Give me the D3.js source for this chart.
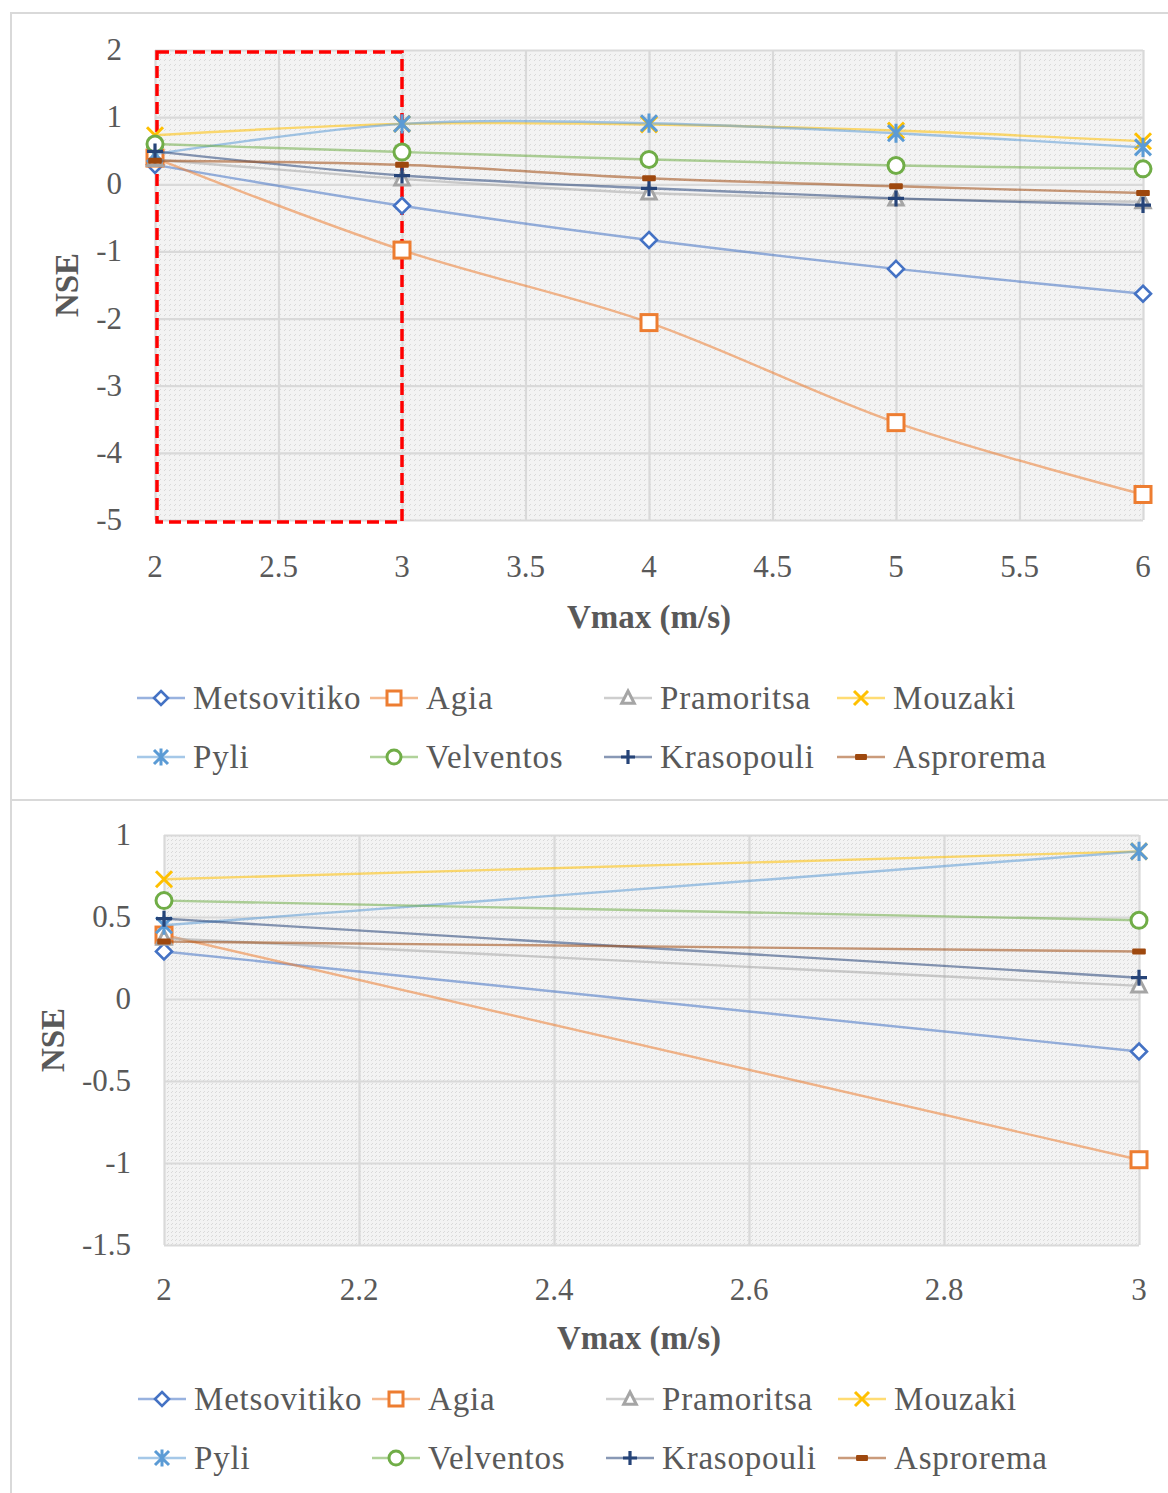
<!DOCTYPE html>
<html>
<head>
<meta charset="utf-8">
<script src="https://cdn.jsdelivr.net/npm/d3@7"></script>
<style>
  html, body { margin: 0; padding: 0; background: #ffffff; }
  svg { display: block; }
  text { font-family: "Liberation Serif", "DejaVu Serif", serif; fill: #595959; }
</style>
</head>
<body>
<svg id="chart" width="1168" height="1493"></svg>
<script>
// Maximum flow velocity values (m/s)
const vmax = [2, 3, 4, 5, 6];

// Station names, in legend order
const stations = ["Metsovitiko", "Agia", "Pramoritsa", "Mouzaki", "Pyli", "Velventos", "Krasopouli", "Asprorema"];

// NSE per station for each Vmax
const metsovitiko = [0.29, -0.32, -0.83, -1.26, -1.63];
const agia        = [0.39, -0.98, -2.06, -3.55, -4.62];
const pramoritsa  = [0.37, 0.08, -0.13, -0.22, -0.26];
const mouzaki     = [0.73, 0.90, 0.89, 0.80, 0.64];
const pyli        = [0.45, 0.90, 0.91, 0.76, 0.55];
const velventos   = [0.60, 0.48, 0.37, 0.28, 0.23];
const krasopouli  = [0.49, 0.13, -0.06, -0.21, -0.31];
const asprorema   = [0.35, 0.29, 0.09, -0.03, -0.13];

// Axis ticks
const xTicksFull = [2, 2.5, 3, 3.5, 4, 4.5, 5, 5.5, 6];
const yTicksFull = [2, 1, 0, -1, -2, -3, -4, -5];
const xTicksZoom = [2, 2.2, 2.4, 2.6, 2.8, 3];
const yTicksZoom = [1, 0.5, 0, -0.5, -1, -1.5];

const nse = [metsovitiko, agia, pramoritsa, mouzaki, pyli, velventos, krasopouli, asprorema];

// Series appearance
const styles = [
  { color: "#4472C4", marker: "diamond" },
  { color: "#ED7D31", marker: "square" },
  { color: "#A5A5A5", marker: "triangle" },
  { color: "#FFC000", marker: "cross" },
  { color: "#5B9BD5", marker: "star" },
  { color: "#70AD47", marker: "circle" },
  { color: "#264478", marker: "plus" },
  { color: "#9E480E", marker: "dash" }
];

const svg = d3.select("#chart");
const defs = svg.append("defs");

// Diagonal hatch fill for the plot areas
function hatch(id, step) {
  const p = defs.append("pattern")
    .attr("id", id)
    .attr("patternUnits", "userSpaceOnUse")
    .attr("width", step).attr("height", step);
  p.append("rect").attr("width", step).attr("height", step).attr("fill", "#f3f3f3");
  p.append("path")
    .attr("d", `M${-step},0 L${step},${2 * step} M0,${-step} L${2 * step},${step}`)
    .attr("stroke", "#a3a3a3").attr("stroke-width", 1.2);
}
hatch("hatchTop", 5);
hatch("hatchBottom", 4);

// Panel frames
svg.append("rect").attr("x", 11).attr("y", 13).attr("width", 1170).attr("height", 787)
  .attr("fill", "none").attr("stroke", "#d9d9d9").attr("stroke-width", 2);
svg.append("rect").attr("x", 11).attr("y", 800).attr("width", 1170).attr("height", 720)
  .attr("fill", "none").attr("stroke", "#d9d9d9").attr("stroke-width", 2);

function drawMarker(g, type, color, cx, cy, s) {
  const m = g.append("g").attr("transform", `translate(${cx},${cy})`);
  switch (type) {
    case "diamond":
      m.append("path").attr("d", `M0,${-s} L${s},0 L0,${s} L${-s},0 Z`)
        .attr("fill", "#ffffff").attr("stroke", color).attr("stroke-width", 2.6);
      break;
    case "square":
      m.append("rect").attr("x", -s).attr("y", -s).attr("width", 2 * s).attr("height", 2 * s)
        .attr("fill", "#ffffff").attr("stroke", color).attr("stroke-width", 3);
      break;
    case "triangle":
      m.append("path").attr("d", `M0,${-s} L${s * 0.9},${s * 0.75} L${-s * 0.9},${s * 0.75} Z`)
        .attr("fill", "#ffffff").attr("stroke", color).attr("stroke-width", 3);
      break;
    case "circle":
      m.append("circle").attr("r", s)
        .attr("fill", "#ffffff").attr("stroke", color).attr("stroke-width", 3);
      break;
    case "cross":
      m.append("path").attr("d", `M${-s},${-s} L${s},${s} M${-s},${s} L${s},${-s}`)
        .attr("stroke", color).attr("stroke-width", 3).attr("fill", "none");
      break;
    case "star":
      m.append("path").attr("d", `M${-s},${-s} L${s},${s} M${-s},${s} L${s},${-s} M0,${-s * 1.2} L0,${s * 1.2}`)
        .attr("stroke", color).attr("stroke-width", 3).attr("fill", "none");
      break;
    case "plus":
      m.append("path").attr("d", `M${-s},0 L${s},0 M0,${-s} L0,${s}`)
        .attr("stroke", color).attr("stroke-width", 3.2).attr("fill", "none");
      break;
    case "dash":
      m.append("rect").attr("x", -s * 0.85).attr("y", -3).attr("width", s * 1.7).attr("height", 6)
        .attr("rx", 1).attr("fill", color);
      break;
  }
}

function drawPanel(cfg) {
  const x = d3.scaleLinear().domain(cfg.xDomain).range(cfg.xRange);
  const y = d3.scaleLinear().domain(cfg.yDomain).range(cfg.yRange);
  const g = svg.append("g");

  // plot background
  g.append("rect")
    .attr("x", cfg.xRange[0]).attr("y", cfg.yRange[1])
    .attr("width", cfg.xRange[1] - cfg.xRange[0])
    .attr("height", cfg.yRange[0] - cfg.yRange[1])
    .attr("fill", `url(#${cfg.hatch})`);

  // gridlines
  const xAxis = d3.axisBottom(x).tickValues(cfg.xTicks).tickSize(-(cfg.yRange[0] - cfg.yRange[1])).tickFormat("");
  const yAxis = d3.axisLeft(y).tickValues(cfg.yTicks).tickSize(-(cfg.xRange[1] - cfg.xRange[0])).tickFormat("");
  const gx = g.append("g").attr("transform", `translate(0,${cfg.yRange[0]})`).call(xAxis);
  const gy = g.append("g").attr("transform", `translate(${cfg.xRange[0]},0)`).call(yAxis);
  [gx, gy].forEach(a => {
    a.select(".domain").remove();
    a.selectAll("line").attr("stroke", "#d9d9d9").attr("stroke-width", 2.2);
  });

  // tick labels (plain hyphen for negatives)
  g.selectAll(".xl").data(cfg.xTicks).enter().append("text")
    .attr("x", d => x(d)).attr("y", cfg.xLabelY)
    .attr("text-anchor", "middle").attr("font-size", 31)
    .text(d => String(d));
  g.selectAll(".yl").data(cfg.yTicks).enter().append("text")
    .attr("x", cfg.yLabelX).attr("y", d => y(d) + 10)
    .attr("text-anchor", "end").attr("font-size", 31)
    .text(d => String(d));

  // axis titles
  g.append("text").attr("x", cfg.xTitle[0]).attr("y", cfg.xTitle[1])
    .attr("text-anchor", "middle").attr("font-size", 33).attr("font-weight", "bold")
    .text("Vmax (m/s)");
  g.append("text")
    .attr("transform", `translate(${cfg.yTitle[0]},${cfg.yTitle[1]}) rotate(-90)`)
    .attr("text-anchor", "middle").attr("font-size", 33).attr("font-weight", "bold")
    .text("NSE");

  if (cfg.extra) cfg.extra(g, x, y);

  // series
  const n = cfg.nPoints;
  const line = d3.line().x(d => x(d[0])).y(d => y(d[1])).curve(cfg.curve);
  nse.forEach((vals, i) => {
    const pts = vmax.slice(0, n).map((v, k) => [v, vals[k]]);
    g.append("path").datum(pts).attr("d", line)
      .attr("fill", "none").attr("stroke", styles[i].color)
      .attr("stroke-opacity", 0.55).attr("stroke-width", 2.4);
    pts.forEach(p => drawMarker(g, styles[i].marker, styles[i].color, x(p[0]), y(p[1]), 8));
  });

  // legend
  stations.forEach((name, i) => {
    const col = i % 4, row = Math.floor(i / 4);
    const lx = cfg.legendCols[col];
    const ly = cfg.legendRows[row];
    g.append("line").attr("x1", lx).attr("x2", lx + 48).attr("y1", ly).attr("y2", ly)
      .attr("stroke", styles[i].color).attr("stroke-opacity", 0.55).attr("stroke-width", 2.4);
    drawMarker(g, styles[i].marker, styles[i].color, lx + 24, ly, 7);
    g.append("text").attr("x", lx + 56).attr("y", ly + 11)
      .attr("font-size", 33).attr("letter-spacing", 0.8).text(name);
  });
}

// Full Vmax range, smoothed lines
drawPanel({
  xDomain: [2, 6], xRange: [155, 1143],
  yDomain: [-5, 2], yRange: [520, 50],
  xTicks: xTicksFull, yTicks: yTicksFull,
  hatch: "hatchTop",
  nPoints: 5,
  curve: d3.curveCatmullRom.alpha(0),
  xLabelY: 577, yLabelX: 122,
  xTitle: [649, 628], yTitle: [78, 285],
  legendCols: [137, 370, 604, 837], legendRows: [698, 757],
  extra: (g, x, y) => {
    // highlighted Vmax 2–3 window
    g.append("rect")
      .attr("x", x(2) + 2).attr("y", y(2) + 2)
      .attr("width", x(3) - x(2) - 2).attr("height", y(-5) - y(2))
      .attr("fill", "none").attr("stroke", "#ff0000")
      .attr("stroke-width", 3.5).attr("stroke-dasharray", "12,6");
  }
});

// Detail of Vmax 2–3
drawPanel({
  xDomain: [2, 3], xRange: [164, 1139],
  yDomain: [-1.5, 1], yRange: [1245, 835],
  xTicks: xTicksZoom, yTicks: yTicksZoom,
  hatch: "hatchBottom",
  nPoints: 2,
  curve: d3.curveLinear,
  xLabelY: 1300, yLabelX: 131,
  xTitle: [639, 1349], yTitle: [64, 1040],
  legendCols: [138, 372, 606, 838], legendRows: [1399, 1458]
});
</script>
</body>
</html>
